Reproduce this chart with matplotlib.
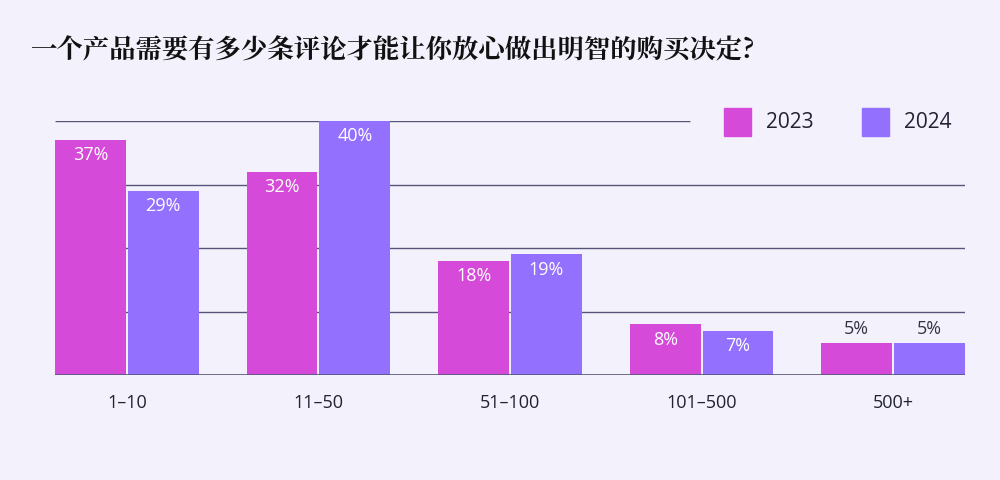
import matplotlib.pyplot as plt
from matplotlib import font_manager
import numpy as np

title = "一个产品需要有多少条评论才能让你放心做出明智的购买决定?"
categories = ["1–10", "11–50", "51–100", "101–500", "500+"]
years = ["2023", "2024"]
values_2023 = [37, 32, 18, 8, 5]
values_2024 = [29, 40, 19, 7, 5]

colors = ["#d54ad8", "#9470ff"]
bg = "#f3f1fc"

# find a CJK font file directly
cjk_files = [f for f in font_manager.findSystemFonts() if "CJK" in f or "cjk" in f.lower()]
bold = [f for f in cjk_files if "Bold" in f]
title_font = font_manager.FontProperties(fname=(bold or cjk_files)[0], size=19) if cjk_files \
    else font_manager.FontProperties(family="Noto Sans CJK SC", size=19, weight="bold")
plt.rcParams["font.family"] = ["Open Sans", "DejaVu Sans"]

fig = plt.figure(figsize=(10, 4.8), dpi=100, facecolor=bg)
ax = fig.add_axes([0.055, 0.21875, 0.91, 0.529], facecolor=bg)

x = np.arange(len(categories))
w = 0.37
off = 0.19
for vals, col, dx in [(values_2023, colors[0], -off), (values_2024, colors[1], off)]:
    bars = ax.bar(x + dx, vals, w, color=col, zorder=3, clip_on=False)
    for b, v in zip(bars, vals):
        cx = b.get_x() + b.get_width() / 2
        if v >= 7:
            ax.text(cx, v - 1.0, f"{v}%", ha="center", va="top", color="white", fontsize=13, zorder=4)
        else:
            ax.text(cx, v + 0.8, f"{v}%", ha="center", va="bottom", color="#333344", fontsize=13, zorder=4)

ax.set_xlim(-0.375, 4.375)
ax.set_ylim(0, 40)
for g in [10, 20, 30]:
    ax.axhline(g, color="#55557a", lw=1, zorder=1)
ax.hlines(40, -0.375, 2.94, color="#55557a", lw=1, zorder=1)
ax.axhline(0, color="#55557a", lw=1.2, zorder=5)

for s in ax.spines.values():
    s.set_visible(False)
ax.set_yticks([])
ax.set_xticks(x)
ax.set_xticklabels(categories, fontsize=13, color="#222233")
ax.tick_params(axis="x", length=0, pad=14)

# legend
for i, (yr, col) in enumerate(zip(years, colors)):
    fig.patches.append(plt.Rectangle((0.724 + i * 0.138, 0.717), 0.027, 0.058, transform=fig.transFigure,
                                     color=col, figure=fig))
    fig.text(0.766 + i * 0.138, 0.745, yr, fontsize=15, va="center", color="#222233")

fig.text(0.03, 0.895, title, fontproperties=title_font, fontweight="bold", color="#111111", va="center")

fig.savefig("out.png", dpi=100, facecolor=bg)
